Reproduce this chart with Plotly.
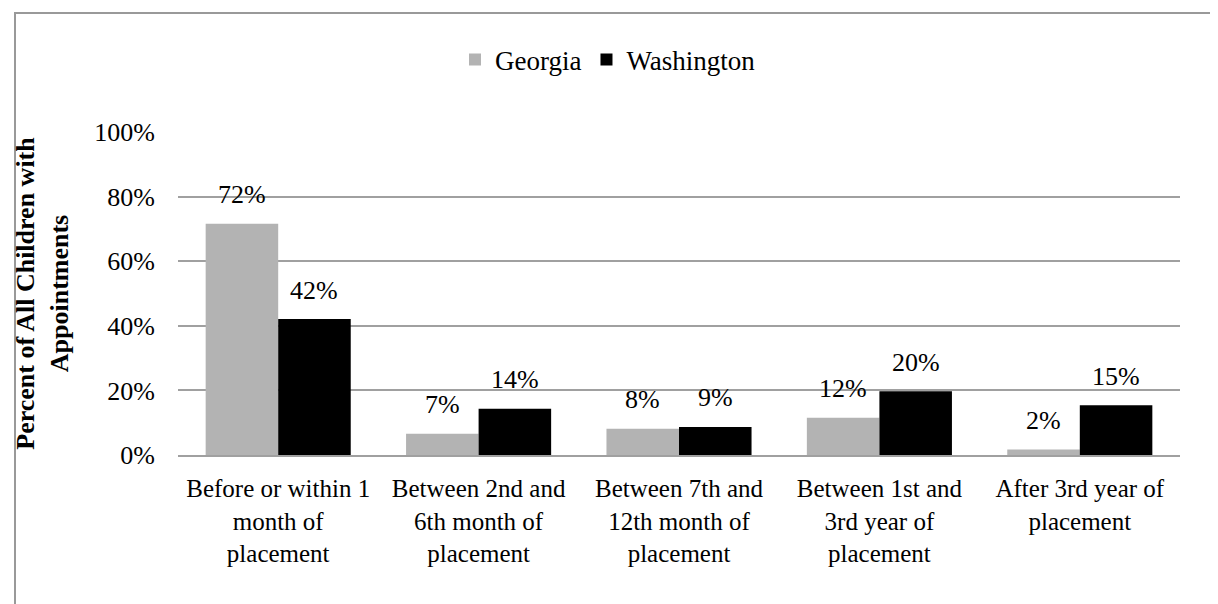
import plotly.graph_objects as go

categories = [
    "Before or within 1<br>month of<br>placement",
    "Between 2nd and<br>6th month of<br>placement",
    "Between 7th and<br>12th month of<br>placement",
    "Between 1st and<br>3rd year of<br>placement",
    "After 3rd year of<br>placement",
]
georgia = [0.716, 0.066, 0.081, 0.115, 0.017]
washington = [0.421, 0.143, 0.087, 0.197, 0.154]
y_ticks = [0, 0.2, 0.4, 0.6, 0.8, 1.0]
y_tick_labels = ["0%", "20%", "40%", "60%", "80%", "100%"]

FONT = "'Liberation Serif', 'Times New Roman', Times, 'DejaVu Serif', serif"
W, H = 1218, 604
ML, MR, MT, MB = 170, 46, 124, 157
BARGAP = 0.276

x_idx = list(range(len(categories)))

fig = go.Figure()
fig.add_trace(go.Bar(name="Georgia", x=x_idx, y=georgia,
                     marker=dict(color="#b3b3b3", line=dict(width=0))))
fig.add_trace(go.Bar(name="Washington", x=x_idx, y=washington,
                     marker=dict(color="#000000", line=dict(width=0))))

# data labels above each bar
half = (1 - BARGAP) / 4
for vals, off in ((georgia, -half), (washington, half)):
    for i, v in zip(x_idx, vals):
        fig.add_annotation(x=i + off, y=v, xref="x", yref="y",
                           text=f"{round(v * 100)}%", showarrow=False,
                           yanchor="middle", yshift=29,
                           font=dict(family=FONT, size=26, color="#000000"))

# outer chart frame
pw = W - ML - MR
ph = H - MT - MB
fig.add_shape(type="rect", xref="paper", yref="paper",
              x0=(7 - ML) / pw, x1=(W + 20 - ML) / pw,
              y0=-(H + 20 - MT - ph) / ph, y1=(ph + MT - 5) / ph,
              line=dict(color="#999999", width=2), fillcolor="rgba(0,0,0,0)",
              layer="below")

fig.update_layout(
    width=W, height=H,
    margin=dict(l=ML, r=MR, t=MT, b=MB, pad=0),
    paper_bgcolor="white", plot_bgcolor="white",
    barmode="group", bargap=BARGAP, bargroupgap=0,
    font=dict(family=FONT, size=26, color="#000000"),
    showlegend=True,
    legend=dict(orientation="h", x=(600 - ML) / pw, xanchor="center",
                y=(H - MB - 52) / ph, yanchor="middle",
                font=dict(family=FONT, size=27), itemclick=False,
                bgcolor="rgba(0,0,0,0)", traceorder="normal"),
    xaxis=dict(tickmode="array", tickvals=x_idx, ticktext=categories,
               range=[-0.5, len(categories) - 0.5],
               showgrid=False, showline=True, linecolor="#a0a0a0", linewidth=2,
               ticks="", tickangle=0, ticklabelstandoff=10,
               tickfont=dict(family=FONT, size=25)),
    yaxis=dict(range=[0, 1.0], tickmode="array", tickvals=y_ticks,
               ticktext=y_tick_labels, showgrid=True, gridcolor="#a0a0a0",
               gridwidth=2, zeroline=False, showline=False, ticks="",
               ticklabelstandoff=22,
               tickfont=dict(family=FONT, size=26),
               title=dict(text="<b>Percent of All Children with<br>Appointments</b>",
                          font=dict(family=FONT, size=26), standoff=18)),
)

fig.write_html("out.html")
